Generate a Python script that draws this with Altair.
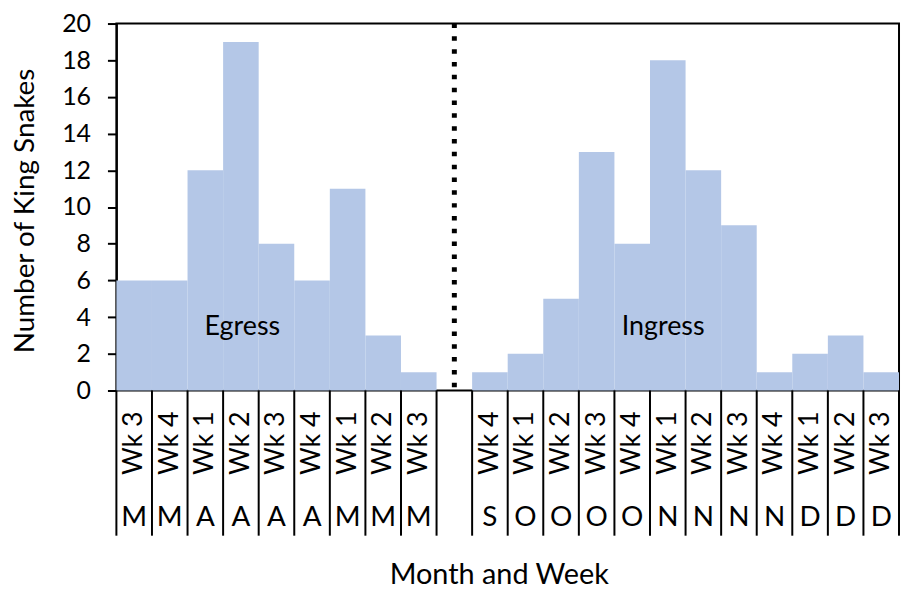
import altair as alt
import pandas as pd

# ---- data ----
egress_weeks = ["Wk 3", "Wk 4", "Wk 1", "Wk 2", "Wk 3", "Wk 4", "Wk 1", "Wk 2", "Wk 3"]
egress_months = ["M", "M", "A", "A", "A", "A", "M", "M", "M"]
egress_counts = [6, 6, 12, 19, 8, 6, 11, 3, 1]

ingress_weeks = ["Wk 4", "Wk 1", "Wk 2", "Wk 3", "Wk 4", "Wk 1", "Wk 2", "Wk 3",
                 "Wk 4", "Wk 1", "Wk 2", "Wk 3"]
ingress_months = ["S", "O", "O", "O", "O", "N", "N", "N", "N", "D", "D", "D"]
ingress_counts = [1, 2, 5, 13, 8, 18, 12, 9, 1, 2, 3, 1]

y_ticks = list(range(0, 21, 2))

# ---- build table (one empty slot between the two seasons) ----
n_e = len(egress_counts)
gap_slot = n_e
n_slots = n_e + 1 + len(ingress_counts)

rows = []
for i, (w, m, v) in enumerate(zip(egress_weeks, egress_months, egress_counts)):
    rows.append(dict(start=i, end=i + 1, mid=i + 0.5, week=w, month=m, value=v))
for j, (w, m, v) in enumerate(zip(ingress_weeks, ingress_months, ingress_counts)):
    i = gap_slot + 1 + j
    rows.append(dict(start=i, end=i + 1, mid=i + 0.5, week=w, month=m, value=v))
df = pd.DataFrame(rows)
bounds = pd.DataFrame({"b": list(range(0, n_slots + 1))})
divider = pd.DataFrame({"d": [gap_slot + 0.5]})

W, H = 787, 369
FONT = "Lato"
BLUE = "#B4C7E7"

xs = alt.Scale(domain=[0, n_slots], nice=False, zero=False)
ys = alt.Scale(domain=[0, 20], nice=False)

yaxis = alt.Axis(values=y_ticks, grid=False, tickSize=9, tickWidth=2,
                 tickColor="black", domainColor="black", domainWidth=2,
                 labelFont=FONT, labelFontSize=25, labelColor="black",
                 labelPadding=17, labelOverlap=False, labelFlush=False,
                 labelBound=False,
                 title="Number of King Snakes", titleFont=FONT,
                 titleFontSize=28, titleFontWeight="normal",
                 titleColor="black", titleX=-91, titleY=188,
                 titleAngle=270, titleAlign="center", titleBaseline="middle")

bars = alt.Chart(df).mark_rect(color=BLUE).encode(
    x=alt.X("start:Q", scale=xs, axis=None),
    x2="end:Q",
    y=alt.Y("value:Q", scale=ys, axis=yaxis),
    y2=alt.datum(0),
)

dots = alt.Chart(divider).mark_rule(color="black", strokeWidth=5,
                                    strokeDash=[4.5, 8.4]).encode(
    x=alt.X("d:Q", scale=xs, axis=None),
    y=alt.value(0), y2=alt.value(H),
)

seps = alt.Chart(bounds).mark_rule(color="black", strokeWidth=2).encode(
    x=alt.X("b:Q", scale=xs, axis=None),
    y=alt.value(H), y2=alt.value(H + 146),
)

weeks = alt.Chart(df).mark_text(angle=270, align="right", baseline="middle",
                                font=FONT, fontSize=27, color="black").encode(
    x=alt.X("mid:Q", scale=xs, axis=None),
    y=alt.value(H + 21),
    text="week:N",
)

months = alt.Chart(df).mark_text(align="center", baseline="alphabetic",
                                 font=FONT, fontSize=28, color="black").encode(
    x=alt.X("mid:Q", scale=xs, axis=None),
    y=alt.value(H + 136),
    text="month:N",
)

xtitle = alt.Chart(divider).mark_text(align="center", baseline="alphabetic",
                                      font=FONT, fontSize=29, color="black").encode(
    x=alt.value(385), y=alt.value(H + 195), text=alt.value("Month and Week"),
)

egress_lbl = alt.Chart(divider).mark_text(align="center", baseline="alphabetic",
                                          font=FONT, fontSize=27, color="black").encode(
    x=alt.XDatum(3.54, scale=xs, axis=None), y=alt.YDatum(3, scale=ys, axis=yaxis),
    text=alt.value("Egress"),
)
ingress_lbl = alt.Chart(divider).mark_text(align="center", baseline="alphabetic",
                                           font=FONT, fontSize=27, color="black").encode(
    x=alt.XDatum(15.37, scale=xs, axis=None), y=alt.YDatum(3, scale=ys, axis=yaxis),
    text=alt.value("Ingress"),
)

chart = alt.layer(bars, dots, seps, weeks, months, xtitle, egress_lbl, ingress_lbl).properties(
    width=W, height=H,
    background="white",
    autosize=alt.AutoSizeParams(type="none"),
    padding={"left": 109, "top": 14, "right": 2, "bottom": 200},
).configure_view(stroke="black", strokeWidth=2)

chart.save("out.html", embed_options={"renderer": "svg", "actions": False})
